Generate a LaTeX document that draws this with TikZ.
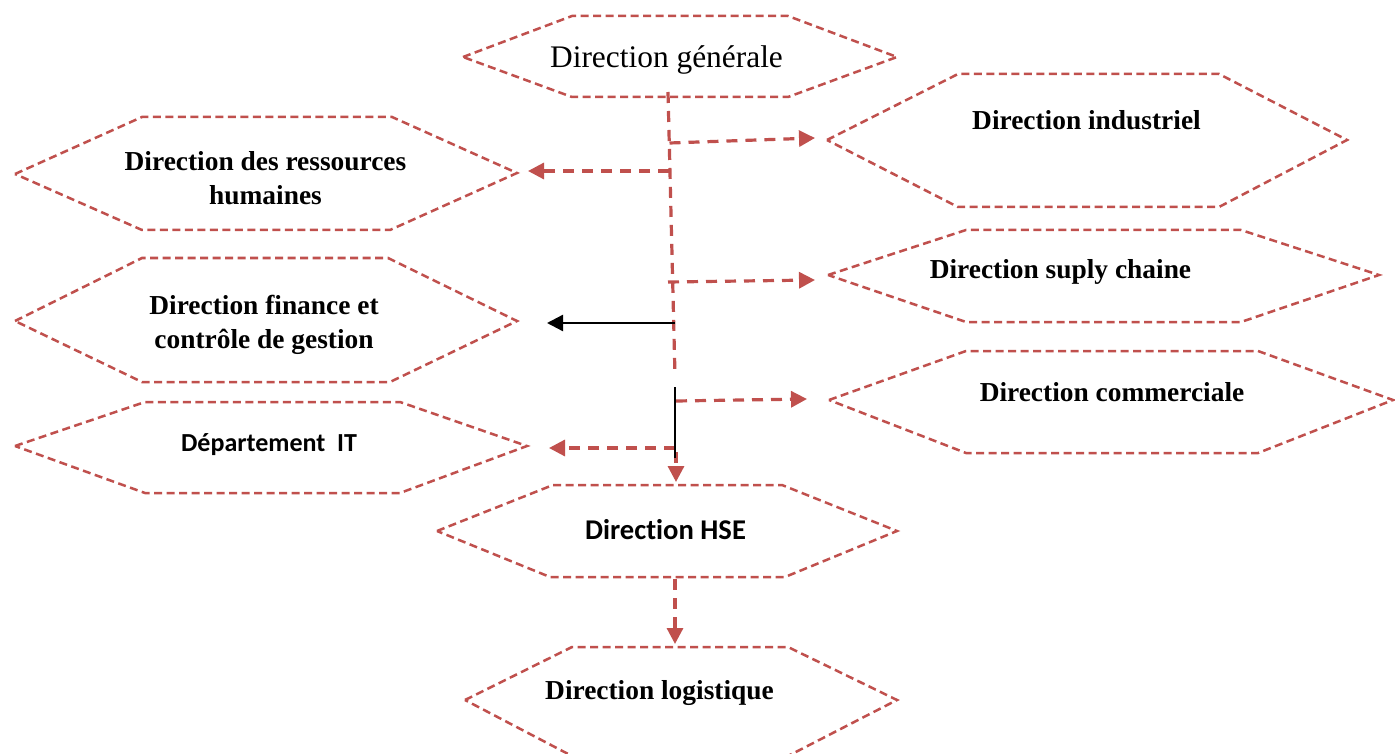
\documentclass[tikz,border=0pt]{standalone}
\usepackage{fontspec}
\setmainfont{Liberation Serif}
\newfontfamily\calib[Ligatures=NoCommon]{Carlito}
\usetikzlibrary{arrows.meta}
\definecolor{hexred}{HTML}{C0504D}
\begin{document}
\begin{tikzpicture}[x=1pt,y=-1pt,
  hexline/.style={draw=hexred, line width=2.5pt, dash pattern=on 8pt off 4.5pt, line join=miter},
  rcon/.style={draw=hexred, line width=3.2pt, dash pattern=on 11pt off 8pt, -{Triangle[length=16pt,width=16pt]}},
  bcon/.style={draw=black, line width=2.4pt, -{Triangle[length=16pt,width=16pt]}},
  trunk/.style={draw=hexred, line width=3.2pt, dash pattern=on 11pt off 8pt},
  serlbl/.style={font=\bfseries\fontsize{27.4}{34}\selectfont, align=center, anchor=base, inner sep=0pt},
  sanslbl/.style={font=\calib\bfseries\fontsize{26}{31}\selectfont, anchor=base, inner sep=0pt}
]
\useasboundingbox (0,0) rectangle (1395,754);
\fill[white] (0,0) rectangle (1395,754);

% hexagons
\draw[hexline] (463,57) -- (572,16) -- (788,16) -- (897,57) -- (788,97) -- (572,97) -- cycle;
\draw[hexline] (15,174) -- (142,117) -- (392,117) -- (517,173) -- (390,230) -- (142,230) -- cycle;
\draw[hexline] (827,140) -- (958,74) -- (1219,74) -- (1347,140) -- (1219,207) -- (958,207) -- cycle;
\draw[hexline] (15,321) -- (142,258) -- (388,258) -- (517,321) -- (390,382) -- (142,382) -- cycle;
\draw[hexline] (828,275) -- (966,230) -- (1241,230) -- (1379,275) -- (1241,322) -- (966,322) -- cycle;
\draw[hexline] (829,400) -- (966,351) -- (1258,351) -- (1393,400) -- (1258,453) -- (966,453) -- cycle;
\draw[hexline] (15,446) -- (145,402) -- (400,402) -- (527,446) -- (400,493) -- (145,493) -- cycle;
\draw[hexline] (437,531) -- (553,485) -- (782,485) -- (897,531) -- (785,577) -- (550,577) -- cycle;
\draw[hexline] (465,700) -- (572,647) -- (788,647) -- (897,700) -- (788,756) -- (572,756) -- cycle;

% labels
\node[anchor=base, inner sep=0pt, font=\fontsize{31.4}{36}\selectfont] (dg) at (666.5,68) {Direction générale};
\node[serlbl] (drh) at (265.5,205) {Direction des ressources\\humaines};
\node[serlbl] (ind) at (1086.5,130) {Direction industriel};
\node[serlbl] (fin) at (264,348) {Direction finance et\\contrôle de gestion};
\node[serlbl] (sup) at (1060.5,279) {Direction suply chaine};
\node[serlbl] (com) at (1112,401) {Direction commerciale};
\node[sanslbl] (it) at (269,451) {Département\ \ IT};
\node[sanslbl, font=\calib\bfseries\fontsize{28.6}{34}\selectfont] (hse) at (665.5,539) {Direction HSE};
\node[serlbl] (log) at (659.5,699) {Direction logistique};

% connector points
\coordinate (t0) at (668,92);
\coordinate (t1) at (675,376);
\coordinate (bInd) at (669.5,143);
\coordinate (aInd) at (815,138);
\coordinate (bDrh) at (669,171);
\coordinate (aDrh) at (528,171);
\coordinate (bSup) at (668,282);
\coordinate (aSup) at (815,280);
\coordinate (bFin) at (675,323);
\coordinate (aFin) at (547,323);
\coordinate (k0) at (675,387);
\coordinate (k1) at (675,458);
\coordinate (bCom) at (676,401);
\coordinate (aCom) at (807,399);
\coordinate (bIt) at (675,448);
\coordinate (aIt) at (549,448);
\coordinate (bHse) at (676,452);
\coordinate (aHse) at (676,482);
\coordinate (bLog) at (675,579);
\coordinate (aLog) at (675,644);

% connectors
\draw[trunk] (t0) -- (t1);
\draw[rcon] (bInd) -- (aInd);
\draw[rcon] (bDrh) -- (aDrh);
\draw[rcon] (bSup) -- (aSup);
\draw[bcon] (bFin) -- (aFin);
\draw[rcon] (bCom) -- (aCom);
\draw[rcon] (bIt) -- (aIt);
\draw[rcon] (bHse) -- (aHse);
\draw[draw=black, line width=2.2pt] (k0) -- (k1);
\draw[rcon] (bLog) -- (aLog);
\end{tikzpicture}
\end{document}
